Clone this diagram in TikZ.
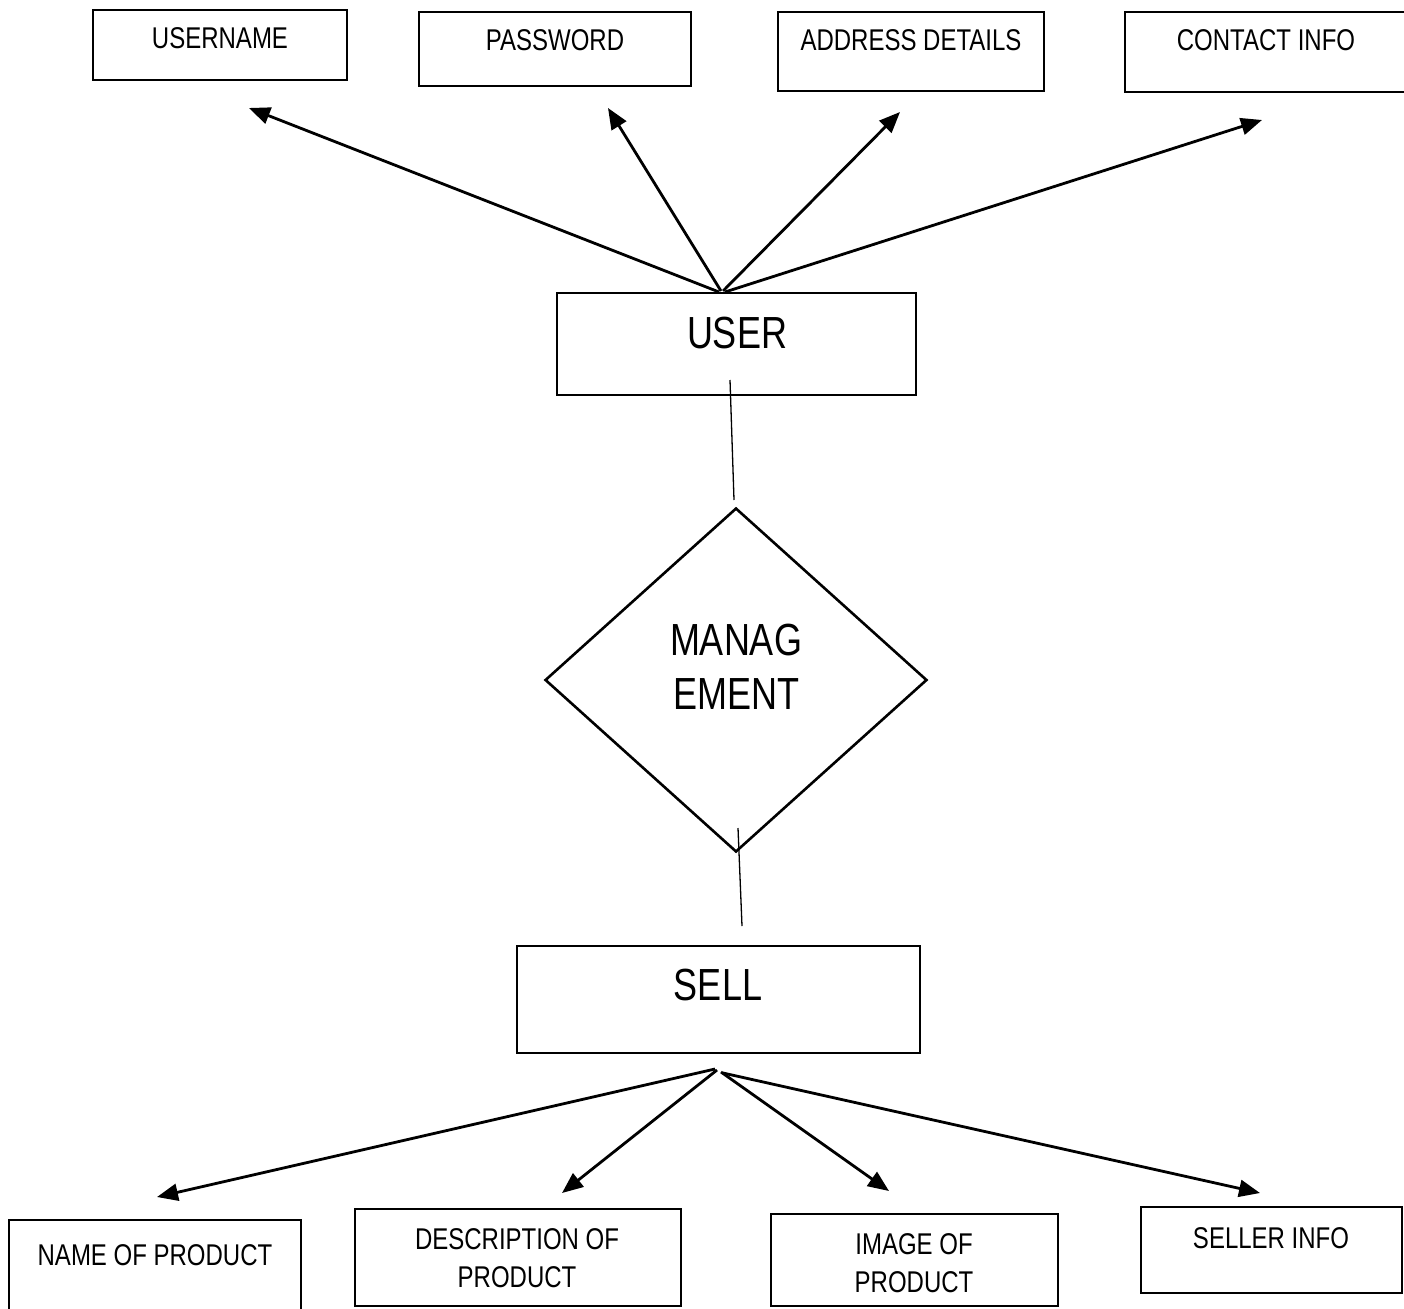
\documentclass[tikz,border=0pt]{standalone}
\usepackage{fontspec}
\setmainfont{Liberation Sans}[FakeStretch=0.8]
\usetikzlibrary{arrows.meta,shapes.geometric}
\begin{document}
\begin{tikzpicture}[x=1pt,y=-1pt,
  box/.style={draw, line width=2.6pt, inner sep=0pt},
  small/.style={font=\fontsize{30}{38}\selectfont, align=center, inner sep=0pt},
  big/.style={font=\fontsize{45}{54}\selectfont, align=center, inner sep=0pt},
  arr/.style={line width=2.8pt, -{Triangle[length=21pt,width=17pt]}},
  thinline/.style={line width=1.3pt}]
\useasboundingbox (0,0) rectangle (1404,1308);
% top attribute boxes
\node[box, minimum width=254pt, minimum height=70pt] (bUsername) at (220,45) {};
\node[small] (tUsername) at (220,38) {USERNAME};
\node[box, minimum width=272pt, minimum height=74pt] (bPassword) at (555,49) {};
\node[small] (tPassword) at (555,40) {PASSWORD};
\node[box, minimum width=266pt, minimum height=79pt] (bAddress) at (911,51.5) {};
\node[small] (tAddress) at (911,40) {ADDRESS DETAILS};
\node[box, minimum width=285pt, minimum height=80pt] (bContact) at (1267.5,52) {};
\node[small] (tContact) at (1266,40) {CONTACT INFO};
% entities
\node[box, minimum width=359pt, minimum height=102pt] (bUser) at (736.5,344) {};
\node[big] (tUser) at (737,333) {USER};
\node[draw, line width=2.6pt, diamond, inner sep=0pt, minimum width=382pt, minimum height=344pt] (mgmt) at (736,680) {};
\node[big] (tMgmt) at (736,667) {MANAG\\EMENT};
\node[box, minimum width=403pt, minimum height=107pt] (bSell) at (718.5,999.5) {};
\node[big] (tSell) at (718,985) {SELL};
% bottom attribute boxes
\node[box, minimum width=292pt, minimum height=92pt] (bName) at (155,1266) {};
\node[small] (tName) at (155,1255) {NAME OF PRODUCT};
\node[box, minimum width=326pt, minimum height=97pt] (bDesc) at (518,1257.5) {};
\node[small] (tDesc) at (517,1258) {DESCRIPTION OF\\PRODUCT};
\node[box, minimum width=287pt, minimum height=92pt] (bImage) at (914.5,1260) {};
\node[small] (tImage) at (914,1263.5) {IMAGE OF\\PRODUCT};
\node[box, minimum width=261pt, minimum height=86pt] (bSeller) at (1271.5,1250) {};
\node[small] (tSeller) at (1271,1238) {SELLER INFO};
% connector points
\coordinate (uA) at (719,292);
\coordinate (uB) at (721,291);
\coordinate (uC) at (723,291);
\coordinate (uD) at (725,292);
\coordinate (pUsername) at (249,108);
\coordinate (pPassword) at (608,108);
\coordinate (pAddress) at (900,112);
\coordinate (pContact) at (1262,120);
\coordinate (sA) at (715,1069);
\coordinate (sB) at (717,1070);
\coordinate (sC) at (721,1072);
\coordinate (sD) at (723,1073);
\coordinate (pName) at (157,1197);
\coordinate (pDesc) at (562,1193);
\coordinate (pImage) at (889,1191);
\coordinate (pSeller) at (1260,1193);
\coordinate (l1a) at (730,380);
\coordinate (l1b) at (734,500);
\coordinate (l2a) at (738,828);
\coordinate (l2b) at (742,926);
% arrows
\draw[arr] (uA) -- (pUsername);
\draw[arr] (uB) -- (pPassword);
\draw[arr] (uC) -- (pAddress);
\draw[arr] (uD) -- (pContact);
\draw[arr] (sA) -- (pName);
\draw[arr] (sB) -- (pDesc);
\draw[arr] (sC) -- (pImage);
\draw[arr] (sD) -- (pSeller);
% plain lines
\draw[thinline] (l1a) -- (l1b);
\draw[thinline] (l2a) -- (l2b);
\end{tikzpicture}
\end{document}
